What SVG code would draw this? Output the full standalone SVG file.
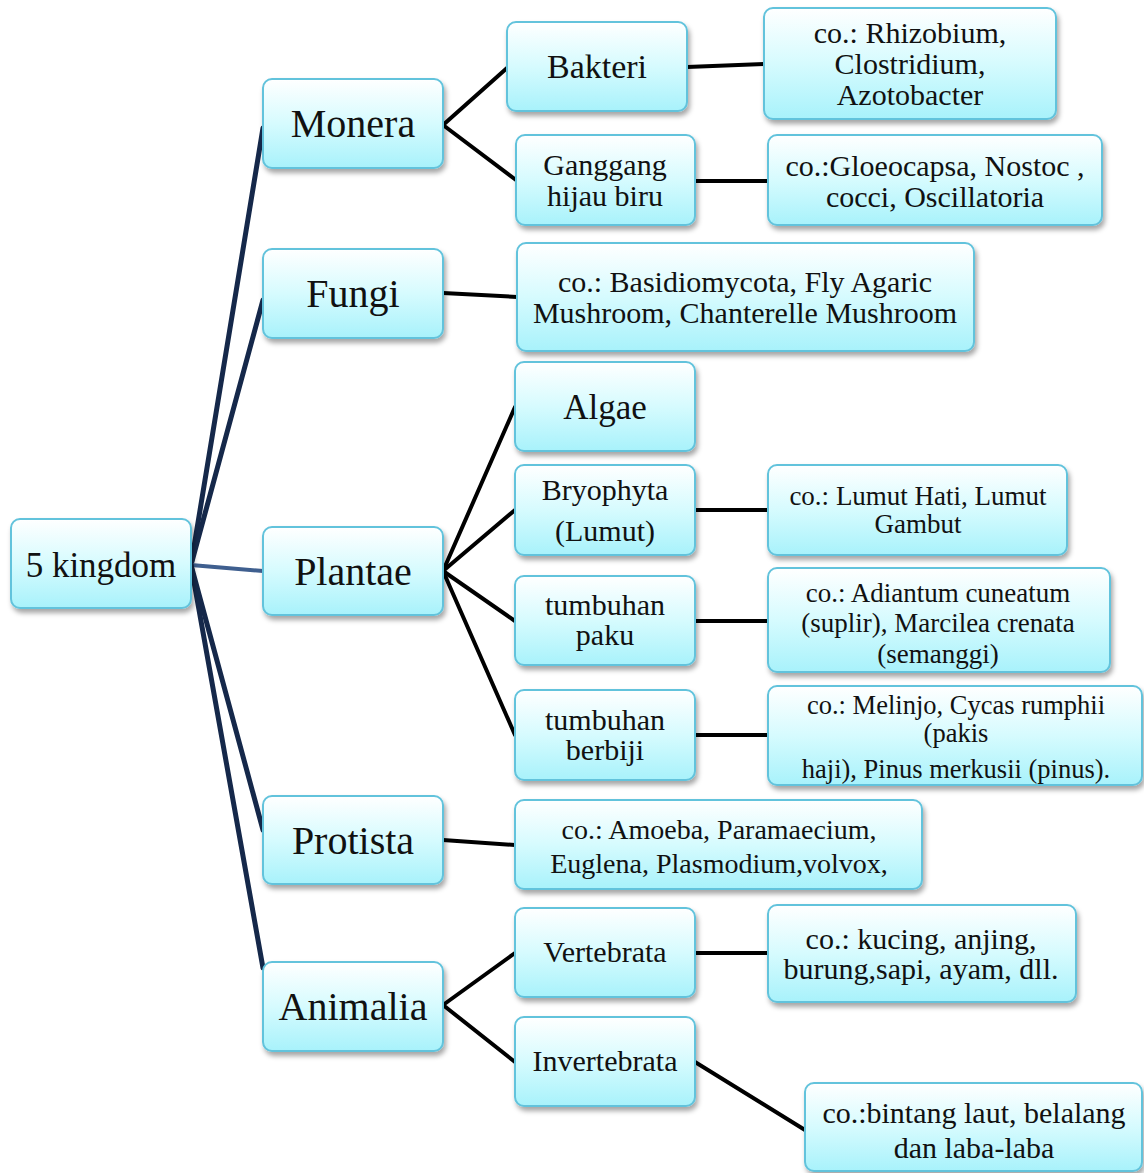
<svg xmlns="http://www.w3.org/2000/svg" width="1144" height="1173" viewBox="0 0 1144 1173">
<defs>
<linearGradient id="g" x1="0" y1="0" x2="0" y2="1">
<stop offset="0" stop-color="#ffffff"/>
<stop offset="0.5" stop-color="#d6fbfe"/>
<stop offset="1" stop-color="#a8f2fb"/>
</linearGradient>
<filter id="sh" x="-10%" y="-10%" width="125%" height="130%">
<feDropShadow dx="2" dy="4" stdDeviation="2.5" flood-color="#000" flood-opacity="0.35"/>
</filter>
</defs>
<style>
.box{fill:url(#g);stroke:#62c3dc;stroke-width:2;filter:url(#sh)}
text{font-family:"Liberation Serif","Times New Roman",serif;fill:#111;text-anchor:middle}
.k{font-size:40px}
.r{font-size:35px}
.m{font-size:30px}
.s{font-size:27px}
.c line{stroke-linecap:round}
.root{stroke:#15284a;stroke-width:5}
.blk{stroke:#000;stroke-width:4}
</style>
<g class="c" id="connectors">
<line class="root" x1="191" y1="565" x2="263" y2="128"/>
<line class="root" x1="191" y1="565" x2="263" y2="300"/>
<line x1="191" y1="565" x2="263" y2="571" stroke="#3f5f8f" stroke-width="4"/>
<line class="root" x1="191" y1="565" x2="263" y2="830"/>
<line class="root" x1="191" y1="565" x2="263" y2="968"/>
<line class="blk" x1="443" y1="125" x2="507" y2="68"/>
<line class="blk" x1="443" y1="125" x2="516" y2="180"/>
<line class="blk" x1="687" y1="67" x2="764" y2="64"/>
<line class="blk" x1="695" y1="181" x2="768" y2="181"/>
<line class="blk" x1="443" y1="293" x2="517" y2="297"/>
<line class="blk" x1="443" y1="571" x2="515" y2="407"/>
<line class="blk" x1="443" y1="571" x2="515" y2="510"/>
<line class="blk" x1="443" y1="571" x2="515" y2="621"/>
<line class="blk" x1="443" y1="571" x2="515" y2="735"/>
<line class="blk" x1="695" y1="510" x2="768" y2="510"/>
<line class="blk" x1="695" y1="621" x2="768" y2="621"/>
<line class="blk" x1="695" y1="735" x2="768" y2="735"/>
<line class="blk" x1="443" y1="840" x2="515" y2="845"/>
<line class="blk" x1="443" y1="1005" x2="515" y2="953"/>
<line class="blk" x1="443" y1="1005" x2="515" y2="1062"/>
<line class="blk" x1="695" y1="953" x2="768" y2="953"/>
<line class="blk" x1="695" y1="1062" x2="805" y2="1130"/>
</g>
<g id="root"><rect class="box" x="11" y="519" width="180" height="89" rx="9"/><text class="r" x="101" y="577">5 kingdom</text></g>
<g id="monera"><rect class="box" x="263" y="79" width="180" height="89" rx="9"/><text class="k" x="353" y="137">Monera</text></g>
<g id="fungi"><rect class="box" x="263" y="249" width="180" height="89" rx="9"/><text class="k" x="353" y="307">Fungi</text></g>
<g id="plantae"><rect class="box" x="263" y="527" width="180" height="88" rx="9"/><text class="k" x="353" y="585">Plantae</text></g>
<g id="protista"><rect class="box" x="263" y="796" width="180" height="88" rx="9"/><text class="k" x="353" y="854">Protista</text></g>
<g id="animalia"><rect class="box" x="263" y="962" width="180" height="89" rx="9"/><text class="k" x="353" y="1020">Animalia</text></g>
<g id="bakteri"><rect class="box" x="507" y="22" width="180" height="89" rx="9"/><text class="m" x="597" y="78" style="font-size:34px">Bakteri</text></g>
<g id="ganggang"><rect class="box" x="516" y="135" width="179" height="90" rx="9"/><text class="m" x="605" y="175">Ganggang</text><text class="m" x="605" y="206">hijau biru</text></g>
<g id="bakteri-ex"><rect class="box" x="764" y="8" width="292" height="111" rx="9"/><text class="m" x="910" y="43">co.: Rhizobium,</text><text class="m" x="910" y="74">Clostridium,</text><text class="m" x="910" y="105">Azotobacter</text></g>
<g id="ganggang-ex"><rect class="box" x="768" y="135" width="334" height="90" rx="9"/><text class="m" x="935" y="176">co.:Gloeocapsa, Nostoc ,</text><text class="m" x="935" y="207">cocci, Oscillatoria</text></g>
<g id="fungi-ex"><rect class="box" x="517" y="243" width="457" height="108" rx="9"/><text class="m" x="745" y="292">co.: Basidiomycota, Fly Agaric</text><text class="m" x="745" y="323">Mushroom, Chanterelle Mushroom</text></g>
<g id="algae"><rect class="box" x="515" y="362" width="180" height="89" rx="9"/><text class="m" x="605" y="419" style="font-size:35px">Algae</text></g>
<g id="bryophyta"><rect class="box" x="515" y="465" width="180" height="90" rx="9"/><text class="m" x="605" y="500">Bryophyta</text><text class="m" x="605" y="541">(Lumut)</text></g>
<g id="bryophyta-ex"><rect class="box" x="768" y="465" width="299" height="90" rx="9"/><text class="s" x="918" y="505">co.: Lumut Hati, Lumut</text><text class="s" x="918" y="533">Gambut</text></g>
<g id="paku"><rect class="box" x="515" y="576" width="180" height="89" rx="9"/><text class="m" x="605" y="615">tumbuhan</text><text class="m" x="605" y="645">paku</text></g>
<g id="paku-ex"><rect class="box" x="768" y="568" width="342" height="104" rx="9"/><text class="s" x="938" y="602">co.: Adiantum cuneatum</text><text class="s" x="938" y="632">(suplir), Marcilea crenata</text><text class="s" x="938" y="663">(semanggi)</text></g>
<g id="berbiji"><rect class="box" x="515" y="690" width="180" height="90" rx="9"/><text class="m" x="605" y="730">tumbuhan</text><text class="m" x="605" y="760">berbiji</text></g>
<g id="berbiji-ex"><rect class="box" x="768" y="686" width="374" height="99" rx="9"/><text class="s" x="956" y="714" style="font-size:26.5px">co.: Melinjo, Cycas rumphii</text><text class="s" x="956" y="742" style="font-size:26.5px">(pakis</text><text class="s" x="956" y="778" style="font-size:26.5px">haji), Pinus merkusii (pinus).</text></g>
<g id="protista-ex"><rect class="box" x="515" y="800" width="407" height="89" rx="9"/><text class="m" x="719" y="839" style="font-size:28px">co.: Amoeba, Paramaecium,</text><text class="m" x="719" y="873" style="font-size:28px">Euglena, Plasmodium,volvox,</text></g>
<g id="vertebrata"><rect class="box" x="515" y="908" width="180" height="89" rx="9"/><text class="m" x="605" y="962">Vertebrata</text></g>
<g id="vertebrata-ex"><rect class="box" x="768" y="905" width="308" height="97" rx="9"/><text class="m" x="921" y="949">co.: kucing, anjing,</text><text class="m" x="921" y="979">burung,sapi, ayam, dll.</text></g>
<g id="invertebrata"><rect class="box" x="515" y="1017" width="180" height="89" rx="9"/><text class="m" x="605" y="1071">Invertebrata</text></g>
<g id="invertebrata-ex"><rect class="box" x="805" y="1083" width="337" height="88" rx="9"/><text class="m" x="974" y="1123">co.:bintang laut, belalang</text><text class="m" x="974" y="1158">dan laba-laba</text></g>
</svg>
